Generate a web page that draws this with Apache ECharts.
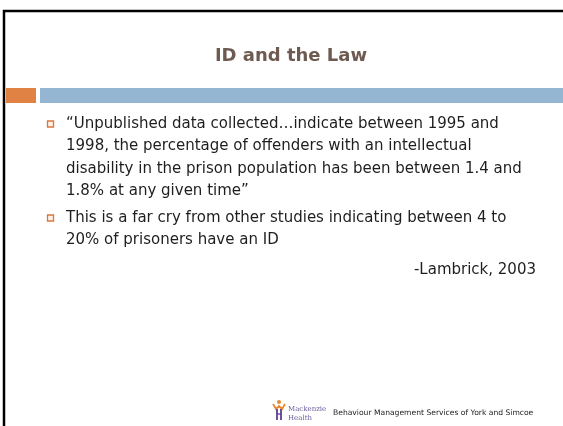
<!DOCTYPE html>
<html>
<head>
<meta charset="utf-8">
<script src="https://cdn.jsdelivr.net/npm/echarts@6/dist/echarts.min.js"></script>
<style>
  html, body { margin: 0; padding: 0; background: #fff; }
  #main { width: 563px; height: 426px; }
</style>
</head>
<body>
<div id="main"></div>
<script>
// slide content
const titleText = 'ID and the Law';
const bullets = [
    [
        '\u201cUnpublished data collected\u2026indicate between 1995 and',
        '1998, the percentage of offenders with an intellectual',
        'disability in the prison population has been between 1.4 and',
        '1.8% at any given time\u201d',
    ],
    [
        'This is a far cry from other studies indicating between 4 to',
        '20% of prisoners have an ID',
    ],
];
const citation = '-Lambrick, 2003';
const footerText = 'Behaviour Management Services of York and Simcoe';
const logoText = ['Mackenzie', 'Health'];

const chart = echarts.init(document.getElementById('main'));

const bodyFont = '"DejaVu Sans", sans-serif';
const lineStep = 22.5;
const elements = [];

// frame
elements.push({
    type: 'rect',
    shape: { x: 4, y: 11, width: 600, height: 440 },
    style: { fill: '#fff', stroke: '#000', lineWidth: 2.5 },
});

// title
elements.push({
    type: 'text',
    x: 291,
    y: 56,
    style: {
        text: titleText,
        font: 'bold 18px "DejaVu Sans", sans-serif',
        fill: '#6e5a50',
        align: 'center',
        verticalAlign: 'middle',
    },
});

// divider bars
elements.push({ type: 'rect', shape: { x: 6, y: 88, width: 30, height: 15 }, style: { fill: '#df8244' } });
elements.push({ type: 'rect', shape: { x: 40, y: 88, width: 530, height: 15 }, style: { fill: '#94b6d2' } });

// bullets
let y = 124;
bullets.forEach((lines, bi) => {
    elements.push({
        type: 'rect',
        shape: { x: 47.5, y: y - 3, width: 6, height: 6 },
        style: { fill: '#fdf1e8', stroke: '#d9773a', lineWidth: 1.3 },
    });
    lines.forEach((line) => {
        elements.push({
            type: 'text',
            x: 66,
            y,
            style: {
                text: line,
                font: `15px ${bodyFont}`,
                fill: '#1e1e1e',
                verticalAlign: 'middle',
            },
        });
        y += lineStep;
    });
    if (bi === 0) y += 4;
});

elements.push({
    type: 'text',
    x: 536,
    y: 270,
    style: {
        text: citation,
        font: `15px ${bodyFont}`,
        fill: '#1e1e1e',
        align: 'right',
        verticalAlign: 'middle',
    },
});

// footer logo (simplified figure)
elements.push({
    type: 'group',
    x: 273,
    y: 400,
    children: [
        { type: 'circle', shape: { cx: 6, cy: 2, r: 2 }, style: { fill: '#e8892f' } },
        { type: 'polyline', shape: { points: [[0, 4], [3, 9], [6, 6], [9, 9], [12, 4]] }, style: { stroke: '#e8892f', lineWidth: 1.8, fill: null } },
        { type: 'polyline', shape: { points: [[4, 9], [4, 20]] }, style: { stroke: '#5b3f8f', lineWidth: 1.8 } },
        { type: 'polyline', shape: { points: [[8, 9], [8, 20]] }, style: { stroke: '#5b3f8f', lineWidth: 1.8 } },
        { type: 'polyline', shape: { points: [[4, 14], [8, 14]] }, style: { stroke: '#5b3f8f', lineWidth: 1.3 } },
    ],
});
logoText.forEach((t, i) => {
    elements.push({
        type: 'text',
        x: 288,
        y: 409 + i * 9,
        style: { text: t, font: '7px "DejaVu Serif", serif', fill: '#6a5a9a', verticalAlign: 'middle' },
    });
});
elements.push({
    type: 'text',
    x: 333,
    y: 413,
    style: {
        text: footerText,
        font: `7.6px ${bodyFont}`,
        fill: '#222',
        verticalAlign: 'middle',
    },
});

chart.setOption({
    animation: false,
    graphic: { elements },
});
</script>
</body>
</html>
